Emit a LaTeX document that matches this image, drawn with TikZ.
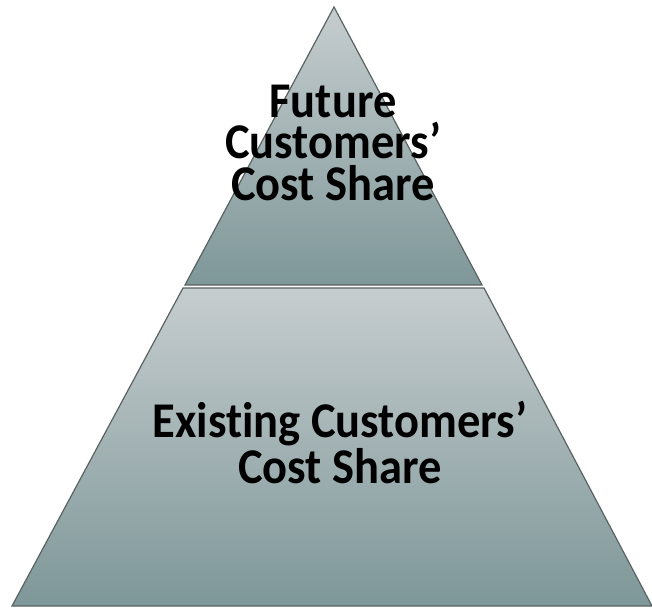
\documentclass[tikz,border=0pt]{standalone}
\usepackage{fontspec}
\setmainfont{Carlito}[Ligatures=NoCommon,FakeStretch=0.93]
\begin{document}
\begin{tikzpicture}[x=0.5pt,y=-0.5pt]
        %colores
        \definecolor{claro}{HTML}{C6CDCF}
        \definecolor{oscuro}{HTML}{7E9798}
        \definecolor{borde}{HTML}{5A6262}
        \tikzset{capa/.style={draw=borde,line width=0.6pt,top color=claro,bottom color=oscuro},
                 rotulo/.style={align=center,font=\bfseries\fontsize{25}{20.5}\selectfont,inner sep=0pt}}

        % marco
        \useasboundingbox (0,0) rectangle (652,609);

        % Capas de la piramide
        \path[capa] (334,7) -- (482,285) -- (185,285) -- cycle;
        \path[capa] (183,288) -- (484,288) -- (652,606) -- (12,606) -- cycle;

        % Textos (base = ultima linea)
        \node[rotulo,anchor=base] (futuro) at (333,200) {Future\\Customers’\\Cost Share};
        \node[rotulo,anchor=base] (existente) at (340,483) {Existing Customers’\\Cost Share};
    \end{tikzpicture}
\end{document}
